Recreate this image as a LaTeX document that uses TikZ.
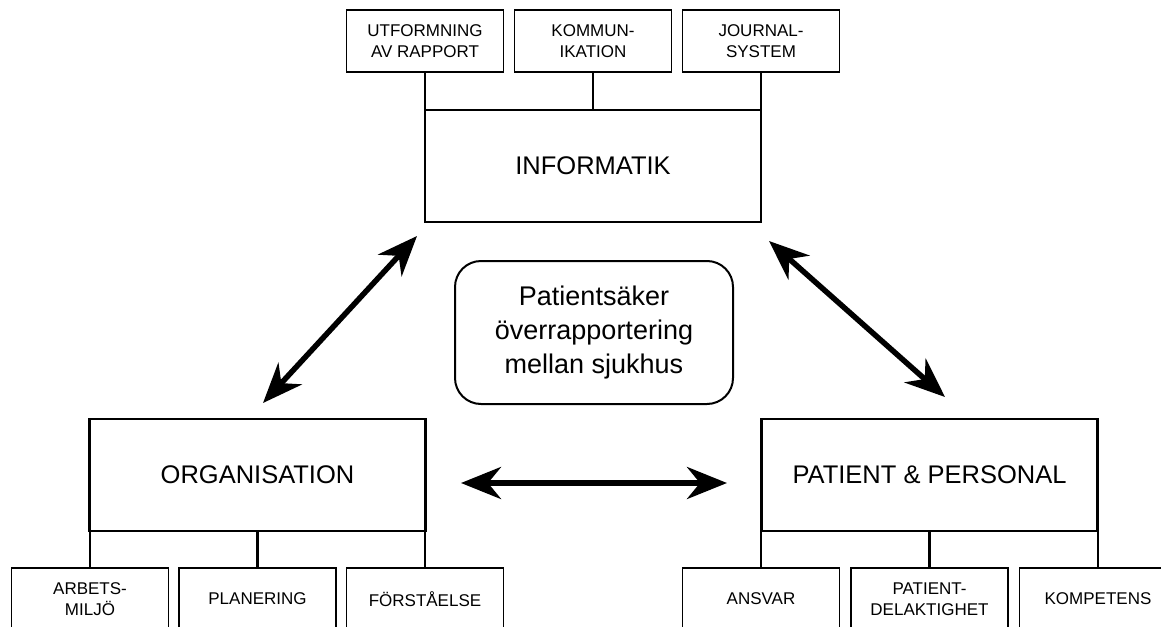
\documentclass[tikz,border=0pt]{standalone}
\usepackage{fontspec}
\setmainfont{Liberation Sans}
\usepackage{tikz}
\usetikzlibrary{arrows.meta,calc}

\begin{document}
\begin{tikzpicture}
[x=1pt,y=-1pt,
 mainbox/.style={draw,line width=2.2pt,minimum width=336pt,minimum height=112pt,
 	inner sep=0pt,font=\fontsize{25.5}{30}\selectfont},
 subbox/.style={draw,line width=1.5pt,minimum width=157pt,minimum height=62pt,
 	inner sep=0pt,align=center,font=\fontsize{17}{21}\selectfont},
 link/.style={line width=2.6pt},
 bigarrow/.style={line width=5.5pt,
 	{Stealth[length=40pt,width=32pt,inset=13pt]}-{Stealth[length=40pt,width=32pt,inset=13pt]}}]
\useasboundingbox (0,0) rectangle (1161,626);
\clip (0,0) rectangle (1161,626);
% main boxes
\node[mainbox] (info) at (593,166) {INFORMATIK};
\node[mainbox] (org) at (257.5,475) {ORGANISATION};
\node[mainbox] (pp) at (929.5,475) {PATIENT \& PERSONAL};
\node[draw,line width=2pt,rounded corners=26pt,minimum width=278pt,minimum height=143pt,
	align=center,font=\fontsize{27}{34}\selectfont] (goal) at (594,332.5)
	{Patientsäker\\överrapportering\\mellan sjukhus};
% sub boxes
\node[subbox] (utf) at (425,41) {UTFORMNING\\AV RAPPORT};
\node[subbox] (kom) at (593,41) {KOMMUN-\\IKATION};
\node[subbox] (jour) at (761,41) {JOURNAL-\\SYSTEM};
\node[subbox] (arb) at (90,599) {ARBETS-\\MILJÖ};
\node[subbox] (plan) at (257.5,599) {PLANERING};
\node[subbox] (fors) at (425,599) {FÖRSTÅELSE};
\node[subbox] (ansv) at (761,599) {ANSVAR};
\node[subbox] (pdel) at (929.5,599) {PATIENT-\\DELAKTIGHET};
\node[subbox] (komp) at (1098,599) {KOMPETENS};
% connectors
\foreach \mainNode/\subNode in {info/utf,info/kom,info/jour}
{
	\draw[link] (\subNode.south) -- (\subNode.south |- \mainNode.north);
}
\foreach \mainNode/\subNode in {org/arb,org/plan,org/fors,pp/ansv,pp/pdel,pp/komp}
{
	\draw[link] (\subNode.north) -- (\subNode.north |- \mainNode.south);
}
% arrows
\coordinate (la) at (263,403);
\coordinate (lb) at (417,236);
\coordinate (ra) at (769,241);
\coordinate (rb) at (945,397);
\coordinate (ha) at (461,483);
\coordinate (hb) at (727,483);
\draw[bigarrow] (la) -- (lb);
\draw[bigarrow] (ra) -- (rb);
\draw[bigarrow] (ha) -- (hb);
\end{tikzpicture}
\end{document}
